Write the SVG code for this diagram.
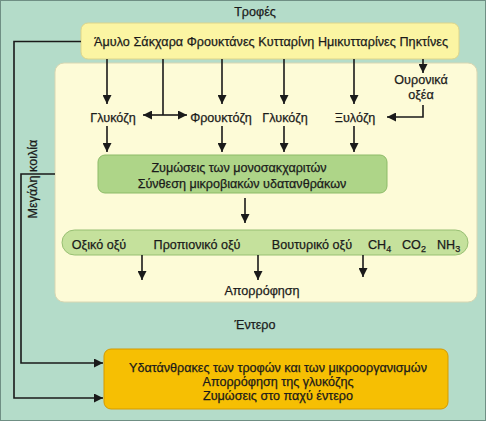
<svg xmlns="http://www.w3.org/2000/svg" width="486" height="421" viewBox="0 0 486 421">
<defs>
<marker id="ah" viewBox="0 0 10 10" refX="10" refY="5" markerWidth="9" markerHeight="9" markerUnits="userSpaceOnUse" orient="auto-start-reverse">
<path d="M0,0 L10,5 L0,10 z" fill="#1a1a1a"/>
</marker>
</defs>
<style>
text{font-family:"Liberation Sans","Noto Sans",Arial,sans-serif;fill:#1a1a1a;font-size:12.6px;stroke:#1a1a1a;stroke-width:0.25}
.m{text-anchor:middle}
.c{fill:none;stroke:#1a1a1a;stroke-width:1.6}
.a{marker-end:url(#ah)}
</style>
<rect x="0.5" y="0.5" width="485" height="420" fill="#b4dcc9" stroke="#6f8f84" stroke-width="1"/>
<text class="m" x="255" y="16">Τροφές</text>
<text class="m" x="255" y="329">Έντερο</text>
<g id="inner">
<rect x="55" y="63" width="422" height="239" rx="9" fill="#fdfbd7" stroke="#d9d7b2" stroke-width="1"/>
</g>
<g id="foods">
<rect x="81" y="23" width="378" height="36" rx="7" fill="#fbf5a3" stroke="#ddd58a" stroke-width="1"/>
<text x="94" y="46" textLength="354" lengthAdjust="spacing">Άμυλο Σάκχαρα Φρουκτάνες Κυτταρίνη Ημικυτταρίνες Πηκτίνες</text>
</g>
<g id="sugars">
<text class="m" x="113" y="122">Γλυκόζη</text>
<text class="m" x="221" y="122">Φρουκτόζη</text>
<text class="m" x="285" y="122">Γλυκόζη</text>
<text class="m" x="355" y="122">Ξυλόζη</text>
<text class="m" x="421" y="84">Ουρονικά</text>
<text class="m" x="421" y="99">οξέα</text>
</g>
<g id="ferment">
<rect x="98" y="155" width="289" height="38" rx="7" fill="#aed588" stroke="#8dbb68" stroke-width="1"/>
<text class="m" x="239" y="172">Ζυμώσεις των μονοσακχαριτών</text>
<text class="m" x="242" y="188">Σύνθεση μικροβιακών υδατανθράκων</text>
</g>
<g id="acids">
<rect x="62" y="230" width="406" height="25" rx="12.5" fill="#c5e19c" stroke="#97bf72" stroke-width="1"/>
<text class="m" x="99" y="249">Οξικό οξύ</text>
<text class="m" x="197" y="249">Προπιονικό οξύ</text>
<text class="m" x="312" y="249">Βουτυρικό οξύ</text>
<text x="368" y="249">CH<tspan font-size="9" dy="3">4</tspan></text>
<text x="402" y="249">CO<tspan font-size="9" dy="3">2</tspan></text>
<text x="437" y="249">NH<tspan font-size="9" dy="3">3</tspan></text>
</g>
<g id="absorb">
<text class="m" x="262" y="295">Απορρόφηση</text>
</g>
<g id="colon-label">
<text class="m" transform="translate(37,179) rotate(-90)" font-size="11.5">Μεγάλη κοιλία</text>
</g>
<g id="large-intestine">
<rect x="104" y="349" width="344" height="60" rx="7" fill="#f6bf03" stroke="#d59a00" stroke-width="1"/>
<text class="m" x="278" y="372">Υδατάνθρακες των τροφών και των μικροοργανισμών</text>
<text class="m" x="278" y="386">Απορρόφηση της γλυκόζης</text>
<text class="m" x="278" y="400">Ζυμώσεις στο παχύ έντερο</text>
</g>
<g id="connectors">
<line class="c a" x1="107" y1="59" x2="107" y2="104"/>
<line class="c" x1="163" y1="59" x2="163" y2="115"/>
<line class="c a" x1="163" y1="115" x2="143" y2="115"/>
<line class="c a" x1="163" y1="115" x2="187" y2="115"/>
<line class="c a" x1="222" y1="59" x2="222" y2="104"/>
<line class="c a" x1="284" y1="59" x2="284" y2="104"/>
<line class="c a" x1="354" y1="59" x2="354" y2="104"/>
<line class="c a" x1="423" y1="59" x2="423" y2="73"/>
<polyline class="c a" points="423,105 423,117 387,117"/>
<line class="c a" x1="107" y1="126" x2="107" y2="152"/>
<line class="c a" x1="222" y1="126" x2="222" y2="152"/>
<line class="c a" x1="284" y1="126" x2="284" y2="152"/>
<line class="c a" x1="354" y1="126" x2="354" y2="152"/>
<line class="c a" x1="245" y1="198" x2="245" y2="223"/>
<line class="c a" x1="142" y1="255" x2="142" y2="280"/>
<line class="c a" x1="258" y1="255" x2="258" y2="280"/>
<line class="c a" x1="363" y1="255" x2="363" y2="277"/>
<polyline class="c a" points="81,41.5 14,41.5 14,398 103,398"/>
<polyline class="c a" points="55,174 21,174 21,363 103,363"/>
</g>
</svg>
